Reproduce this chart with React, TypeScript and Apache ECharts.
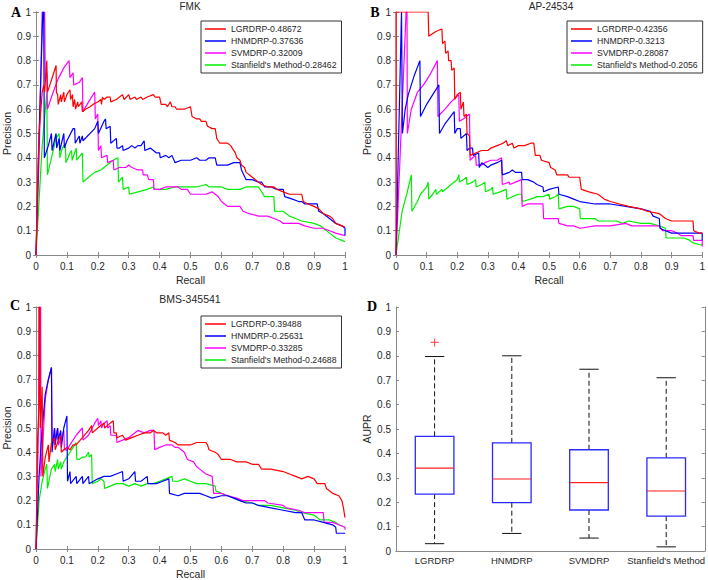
import React, { useEffect, useRef } from "react";
import * as echarts from "echarts";

const METHODS = ["LGRDRP", "HNMDRP", "SVMDRP", "Stanfield's Method"];
const COLORS = ["#ff0000", "#0000ff", "#ff00ff", "#00ee00"];
const TITLES = ["FMK", "AP-24534", "BMS-345541"];
const LETTERS = ["A", "B", "C", "D"];

const FMK_AUPR = ["0.48672", "0.37636", "0.32009", "0.28462"];
const AP_AUPR = ["0.42356", "0.3213", "0.28087", "0.2056"];
const BMS_AUPR = ["0.39488", "0.25631", "0.33285", "0.24688"];

// ---- Panel A (FMK) ----
const FMK_LGRDRP = [[0,0],[0.005,0.3],[0.01,0.5],[0.02,0.67],[0.025,0.7],[0.028,0.67],[0.035,0.8],[0.037,0.67],[0.045,0.7],[0.05,0.72],[0.065,0.78],[0.066,0.67],[0.07,0.66],[0.072,0.62],[0.08,0.66],[0.082,0.63],[0.09,0.67],[0.092,0.63],[0.1,0.66],[0.11,0.68],[0.112,0.64],[0.118,0.66],[0.12,0.61],[0.125,0.64],[0.128,0.6],[0.135,0.63],[0.137,0.61],[0.148,0.63],[0.15,0.59],[0.16,0.6],[0.175,0.61],[0.185,0.62],[0.2,0.63],[0.21,0.64],[0.212,0.62],[0.215,0.65],[0.22,0.64],[0.23,0.65],[0.24,0.65],[0.242,0.63],[0.26,0.64],[0.28,0.66],[0.285,0.64],[0.3,0.66],[0.305,0.64],[0.32,0.65],[0.325,0.64],[0.34,0.65],[0.345,0.64],[0.36,0.65],[0.38,0.66],[0.385,0.65],[0.4,0.65],[0.405,0.62],[0.42,0.62],[0.425,0.61],[0.435,0.63],[0.44,0.61],[0.45,0.61],[0.455,0.6],[0.48,0.6],[0.5,0.61],[0.505,0.57],[0.52,0.56],[0.53,0.56],[0.535,0.55],[0.55,0.55],[0.555,0.53],[0.57,0.52],[0.58,0.52],[0.585,0.48],[0.59,0.47],[0.595,0.46],[0.62,0.46],[0.63,0.45],[0.635,0.44],[0.645,0.42],[0.65,0.4],[0.66,0.39],[0.665,0.37],[0.675,0.36],[0.68,0.34],[0.69,0.33],[0.7,0.32],[0.71,0.31],[0.72,0.3],[0.73,0.29],[0.75,0.28],[0.77,0.28],[0.78,0.27],[0.8,0.26],[0.82,0.25],[0.86,0.25],[0.865,0.22],[0.88,0.21],[0.9,0.2],[0.915,0.19],[0.93,0.17],[0.95,0.16],[0.96,0.15],[0.97,0.13],[0.99,0.12],[1.0,0.115]];
const FMK_HNMDRP = [[0,0],[0.01,0.5],[0.022,1.0],[0.025,1.0],[0.027,0.4],[0.04,0.45],[0.05,0.5],[0.052,0.43],[0.065,0.5],[0.067,0.44],[0.075,0.48],[0.077,0.43],[0.09,0.5],[0.092,0.44],[0.1,0.47],[0.12,0.52],[0.125,0.52],[0.127,0.46],[0.14,0.49],[0.142,0.46],[0.15,0.49],[0.152,0.47],[0.19,0.52],[0.2,0.55],[0.202,0.5],[0.22,0.55],[0.225,0.56],[0.227,0.52],[0.24,0.53],[0.242,0.46],[0.26,0.48],[0.262,0.44],[0.27,0.44],[0.28,0.45],[0.282,0.43],[0.3,0.44],[0.31,0.45],[0.32,0.44],[0.33,0.45],[0.34,0.45],[0.35,0.47],[0.352,0.43],[0.37,0.44],[0.38,0.43],[0.39,0.42],[0.4,0.42],[0.402,0.4],[0.42,0.41],[0.43,0.4],[0.44,0.41],[0.45,0.38],[0.47,0.39],[0.5,0.39],[0.52,0.4],[0.53,0.39],[0.55,0.39],[0.56,0.4],[0.58,0.4],[0.585,0.37],[0.62,0.37],[0.64,0.38],[0.66,0.38],[0.665,0.35],[0.68,0.31],[0.7,0.31],[0.72,0.3],[0.73,0.3],[0.74,0.28],[0.76,0.28],[0.78,0.27],[0.8,0.27],[0.805,0.24],[0.83,0.23],[0.85,0.22],[0.86,0.22],[0.87,0.21],[0.91,0.21],[0.915,0.18],[0.93,0.17],[0.95,0.15],[0.97,0.13],[0.99,0.12],[1.0,0.11],[1.0,0.08]];
const FMK_SVMDRP = [[0,0],[0.01,0.4],[0.02,1.0],[0.028,1.0],[0.03,0.72],[0.035,0.75],[0.037,0.6],[0.05,0.65],[0.07,0.72],[0.09,0.77],[0.107,0.8],[0.11,0.73],[0.12,0.75],[0.122,0.7],[0.14,0.71],[0.15,0.73],[0.152,0.59],[0.17,0.63],[0.19,0.67],[0.192,0.56],[0.2,0.58],[0.202,0.43],[0.21,0.45],[0.212,0.4],[0.23,0.41],[0.232,0.38],[0.25,0.39],[0.252,0.35],[0.27,0.36],[0.29,0.36],[0.3,0.37],[0.31,0.36],[0.33,0.35],[0.345,0.35],[0.347,0.33],[0.36,0.33],[0.365,0.31],[0.38,0.31],[0.382,0.27],[0.4,0.27],[0.42,0.28],[0.46,0.28],[0.47,0.27],[0.49,0.27],[0.5,0.25],[0.53,0.25],[0.55,0.25],[0.57,0.26],[0.59,0.24],[0.6,0.22],[0.61,0.21],[0.62,0.2],[0.66,0.2],[0.67,0.18],[0.69,0.17],[0.72,0.16],[0.75,0.16],[0.77,0.15],[0.79,0.14],[0.8,0.13],[0.85,0.13],[0.87,0.12],[0.9,0.11],[0.93,0.11],[0.95,0.1],[0.97,0.09],[1.0,0.08]];
const FMK_STANFIELD = [[0,0],[0.02,0.45],[0.035,0.67],[0.037,0.33],[0.05,0.4],[0.065,0.48],[0.075,0.5],[0.077,0.4],[0.085,0.44],[0.095,0.46],[0.097,0.38],[0.11,0.42],[0.115,0.43],[0.117,0.39],[0.13,0.44],[0.132,0.39],[0.15,0.42],[0.152,0.3],[0.17,0.32],[0.19,0.34],[0.21,0.35],[0.23,0.37],[0.25,0.39],[0.265,0.4],[0.267,0.3],[0.28,0.32],[0.282,0.27],[0.3,0.28],[0.302,0.25],[0.33,0.26],[0.36,0.27],[0.38,0.28],[0.382,0.27],[0.42,0.27],[0.45,0.28],[0.47,0.28],[0.5,0.28],[0.52,0.28],[0.55,0.29],[0.56,0.28],[0.58,0.28],[0.6,0.28],[0.62,0.27],[0.66,0.27],[0.68,0.28],[0.72,0.28],[0.74,0.24],[0.77,0.24],[0.772,0.18],[0.8,0.18],[0.82,0.16],[0.84,0.15],[0.86,0.14],[0.9,0.13],[0.92,0.12],[0.93,0.11],[0.95,0.09],[0.97,0.07],[1.0,0.055]];

// ---- Panel B (AP-24534) ----
const AP_LGRDRP = [[0,0],[0,1.0],[0.105,1.0],[0.107,0.9],[0.13,0.92],[0.15,0.93],[0.152,0.87],[0.16,0.88],[0.162,0.83],[0.17,0.84],[0.172,0.8],[0.18,0.8],[0.182,0.76],[0.19,0.77],[0.192,0.64],[0.2,0.66],[0.21,0.67],[0.212,0.6],[0.22,0.63],[0.222,0.57],[0.23,0.58],[0.232,0.5],[0.24,0.49],[0.242,0.41],[0.26,0.42],[0.28,0.43],[0.3,0.43],[0.31,0.44],[0.33,0.45],[0.35,0.46],[0.36,0.47],[0.365,0.45],[0.38,0.46],[0.385,0.44],[0.4,0.45],[0.42,0.45],[0.44,0.46],[0.45,0.46],[0.455,0.41],[0.47,0.41],[0.475,0.39],[0.5,0.38],[0.505,0.36],[0.52,0.35],[0.525,0.33],[0.56,0.33],[0.565,0.32],[0.6,0.32],[0.605,0.27],[0.63,0.26],[0.66,0.25],[0.68,0.23],[0.7,0.22],[0.73,0.21],[0.76,0.2],[0.8,0.19],[0.82,0.18],[0.86,0.17],[0.88,0.15],[0.9,0.14],[0.95,0.14],[0.97,0.14],[0.972,0.1],[0.99,0.09],[1.0,0.09]];
const AP_HNMDRP = [[0,0],[0.018,1.0],[0.02,1.0],[0.021,0.5],[0.03,0.6],[0.04,0.66],[0.06,0.74],[0.078,0.8],[0.08,0.57],[0.1,0.62],[0.12,0.66],[0.14,0.7],[0.142,0.5],[0.16,0.54],[0.19,0.59],[0.192,0.5],[0.2,0.52],[0.21,0.52],[0.212,0.48],[0.23,0.5],[0.232,0.43],[0.24,0.44],[0.25,0.44],[0.252,0.41],[0.27,0.42],[0.272,0.36],[0.28,0.38],[0.29,0.37],[0.3,0.36],[0.31,0.37],[0.33,0.38],[0.345,0.39],[0.347,0.33],[0.37,0.34],[0.38,0.35],[0.39,0.34],[0.41,0.34],[0.412,0.31],[0.43,0.31],[0.45,0.3],[0.46,0.29],[0.48,0.28],[0.482,0.26],[0.5,0.27],[0.53,0.28],[0.532,0.25],[0.56,0.24],[0.58,0.23],[0.6,0.22],[0.65,0.21],[0.7,0.21],[0.75,0.2],[0.8,0.19],[0.83,0.18],[0.84,0.16],[0.86,0.15],[0.862,0.11],[0.88,0.1],[0.9,0.09],[0.99,0.09],[1.0,0.09],[1.0,0.06]];
const AP_SVMDRP = [[0,0],[0.033,1.0],[0.036,1.0],[0.037,0.5],[0.05,0.6],[0.07,0.67],[0.09,0.7],[0.11,0.74],[0.135,0.8],[0.137,0.57],[0.16,0.6],[0.18,0.63],[0.205,0.66],[0.207,0.55],[0.22,0.56],[0.24,0.58],[0.242,0.39],[0.25,0.4],[0.26,0.41],[0.262,0.37],[0.28,0.37],[0.29,0.38],[0.31,0.39],[0.33,0.39],[0.345,0.4],[0.347,0.29],[0.37,0.3],[0.372,0.29],[0.39,0.3],[0.41,0.31],[0.412,0.2],[0.43,0.21],[0.45,0.21],[0.47,0.21],[0.48,0.21],[0.482,0.15],[0.5,0.15],[0.53,0.15],[0.532,0.13],[0.56,0.12],[0.58,0.12],[0.6,0.11],[0.65,0.12],[0.7,0.12],[0.75,0.13],[0.77,0.12],[0.8,0.12],[0.86,0.12],[0.87,0.1],[0.9,0.1],[0.92,0.09],[0.93,0.08],[0.97,0.08],[0.972,0.06],[1.0,0.06],[1.0,0.035]];
const AP_STANFIELD = [[0,0],[0.02,0.18],[0.035,0.25],[0.05,0.33],[0.052,0.18],[0.07,0.22],[0.08,0.25],[0.1,0.28],[0.105,0.3],[0.107,0.23],[0.12,0.25],[0.13,0.27],[0.132,0.25],[0.15,0.27],[0.152,0.26],[0.18,0.29],[0.2,0.31],[0.205,0.33],[0.207,0.3],[0.22,0.31],[0.23,0.32],[0.232,0.29],[0.25,0.3],[0.26,0.31],[0.262,0.28],[0.28,0.29],[0.29,0.3],[0.292,0.26],[0.31,0.27],[0.315,0.28],[0.317,0.25],[0.34,0.26],[0.36,0.27],[0.362,0.23],[0.38,0.24],[0.4,0.25],[0.41,0.25],[0.412,0.22],[0.44,0.23],[0.46,0.24],[0.48,0.24],[0.5,0.25],[0.502,0.23],[0.52,0.24],[0.53,0.25],[0.532,0.19],[0.56,0.2],[0.58,0.2],[0.6,0.19],[0.602,0.15],[0.63,0.15],[0.65,0.15],[0.66,0.14],[0.7,0.14],[0.72,0.14],[0.74,0.13],[0.76,0.14],[0.8,0.13],[0.83,0.13],[0.86,0.12],[0.88,0.11],[0.882,0.07],[0.92,0.07],[0.94,0.07],[0.96,0.06],[0.97,0.05],[1.0,0.04]];

// ---- Panel C (BMS-345541) ----
const BMS_LGRDRP = [[0,0],[0.005,0.45],[0.01,0.6],[0.01,1.0],[0.013,1.0],[0.014,0.5],[0.02,0.67],[0.022,0.3],[0.03,0.38],[0.04,0.43],[0.042,0.36],[0.05,0.44],[0.06,0.46],[0.062,0.41],[0.07,0.44],[0.08,0.47],[0.082,0.4],[0.09,0.41],[0.1,0.42],[0.11,0.41],[0.12,0.43],[0.13,0.43],[0.15,0.46],[0.17,0.49],[0.18,0.51],[0.182,0.48],[0.2,0.5],[0.21,0.51],[0.22,0.52],[0.222,0.5],[0.24,0.52],[0.25,0.53],[0.252,0.48],[0.26,0.48],[0.262,0.46],[0.28,0.47],[0.29,0.45],[0.31,0.46],[0.33,0.47],[0.35,0.48],[0.37,0.48],[0.38,0.49],[0.39,0.48],[0.41,0.48],[0.42,0.47],[0.43,0.48],[0.432,0.45],[0.45,0.44],[0.46,0.43],[0.48,0.43],[0.5,0.43],[0.52,0.44],[0.55,0.44],[0.555,0.43],[0.56,0.41],[0.58,0.4],[0.59,0.39],[0.6,0.37],[0.63,0.37],[0.65,0.36],[0.68,0.36],[0.7,0.35],[0.72,0.35],[0.73,0.33],[0.76,0.33],[0.8,0.32],[0.82,0.31],[0.84,0.3],[0.86,0.29],[0.88,0.3],[0.9,0.29],[0.91,0.27],[0.935,0.27],[0.94,0.25],[0.96,0.23],[0.98,0.22],[0.99,0.2],[0.995,0.17],[1.0,0.13]];
const BMS_HNMDRP = [[0,0],[0.01,0.3],[0.02,0.5],[0.03,0.64],[0.04,0.7],[0.05,0.75],[0.052,0.4],[0.06,0.5],[0.062,0.43],[0.07,0.5],[0.072,0.45],[0.08,0.49],[0.082,0.42],[0.09,0.5],[0.1,0.55],[0.102,0.28],[0.11,0.32],[0.112,0.27],[0.13,0.3],[0.132,0.27],[0.15,0.3],[0.152,0.27],[0.17,0.3],[0.172,0.27],[0.2,0.29],[0.22,0.3],[0.24,0.3],[0.26,0.31],[0.28,0.32],[0.282,0.28],[0.3,0.29],[0.32,0.32],[0.322,0.28],[0.34,0.28],[0.36,0.3],[0.362,0.27],[0.39,0.27],[0.41,0.28],[0.43,0.29],[0.432,0.23],[0.46,0.22],[0.48,0.23],[0.5,0.23],[0.53,0.23],[0.55,0.22],[0.57,0.21],[0.6,0.22],[0.62,0.22],[0.64,0.21],[0.66,0.2],[0.68,0.19],[0.7,0.19],[0.72,0.18],[0.76,0.17],[0.8,0.16],[0.84,0.15],[0.86,0.15],[0.87,0.12],[0.9,0.12],[0.93,0.11],[0.96,0.1],[0.97,0.09],[0.972,0.065],[1.0,0.065]];
const BMS_SVMDRP = [[0,0],[0.008,0.5],[0.01,1.0],[0.015,1.0],[0.016,0.3],[0.03,0.62],[0.04,0.7],[0.05,0.75],[0.052,0.42],[0.06,0.5],[0.062,0.45],[0.07,0.5],[0.072,0.43],[0.085,0.47],[0.09,0.49],[0.092,0.41],[0.1,0.41],[0.11,0.43],[0.13,0.47],[0.15,0.5],[0.152,0.45],[0.17,0.47],[0.19,0.52],[0.2,0.54],[0.202,0.51],[0.21,0.53],[0.212,0.5],[0.22,0.52],[0.23,0.53],[0.232,0.5],[0.24,0.51],[0.242,0.47],[0.26,0.47],[0.262,0.44],[0.28,0.45],[0.3,0.46],[0.31,0.47],[0.33,0.49],[0.35,0.48],[0.37,0.49],[0.382,0.49],[0.384,0.41],[0.4,0.42],[0.42,0.43],[0.44,0.43],[0.45,0.42],[0.46,0.42],[0.47,0.41],[0.48,0.4],[0.49,0.37],[0.51,0.36],[0.52,0.34],[0.53,0.33],[0.55,0.31],[0.57,0.3],[0.575,0.23],[0.6,0.23],[0.62,0.22],[0.65,0.21],[0.67,0.2],[0.7,0.2],[0.74,0.2],[0.75,0.19],[0.8,0.18],[0.81,0.17],[0.85,0.16],[0.87,0.15],[0.92,0.15],[0.93,0.15],[0.932,0.11],[0.96,0.11],[0.98,0.1],[1.0,0.09],[1.0,0.08]];
const BMS_STANFIELD = [[0,0],[0.01,0.2],[0.02,0.28],[0.03,0.33],[0.035,0.35],[0.037,0.25],[0.045,0.3],[0.05,0.33],[0.06,0.35],[0.062,0.32],[0.07,0.37],[0.072,0.33],[0.08,0.36],[0.082,0.33],[0.09,0.36],[0.1,0.38],[0.11,0.4],[0.12,0.42],[0.13,0.44],[0.132,0.37],[0.14,0.37],[0.15,0.38],[0.16,0.38],[0.17,0.4],[0.172,0.38],[0.18,0.39],[0.182,0.27],[0.2,0.28],[0.21,0.29],[0.22,0.28],[0.222,0.25],[0.24,0.26],[0.26,0.27],[0.28,0.27],[0.3,0.26],[0.32,0.27],[0.34,0.26],[0.36,0.27],[0.38,0.27],[0.4,0.28],[0.42,0.29],[0.44,0.3],[0.442,0.28],[0.46,0.28],[0.48,0.29],[0.5,0.28],[0.52,0.27],[0.55,0.27],[0.58,0.26],[0.582,0.24],[0.6,0.23],[0.62,0.22],[0.64,0.21],[0.66,0.2],[0.7,0.19],[0.72,0.18],[0.76,0.18],[0.8,0.17],[0.84,0.16],[0.86,0.15],[0.9,0.14],[0.92,0.12],[0.95,0.12],[0.97,0.11],[0.98,0.1],[1.0,0.09]];

// ---- Panel D (AUPR box plot) ----
const BOX_MIN = [0.03, 0.072, 0.053, 0.017];
const BOX_Q1 = [0.233, 0.198, 0.168, 0.143];
const BOX_MEDIAN = [0.34, 0.295, 0.28, 0.246];
const BOX_Q3 = [0.47, 0.443, 0.415, 0.382];
const BOX_MAX = [0.797, 0.8, 0.745, 0.71];
const OUTLIERS = [[0, 0.855]];

const AXIS_MIN = 0;
const AXIS_MAX = 1;
const AXIS_STEP = 0.1;

const FONT = "'Liberation Sans', Arial, sans-serif";
const AXIS_COLOR = "#8a8a8a";
const TEXT_COLOR = "#262626";

const GRIDS = [
  { left: 35, top: 12, width: 310, height: 243 },
  { left: 396, top: 12, width: 310, height: 243 },
  { left: 35, top: 307, width: 310, height: 243 },
  { left: 396, top: 307, width: 310, height: 244 },
];

const LEGEND_POS = [
  { left: 201, top: 21 },
  { left: 567, top: 21 },
  { left: 201, top: 316 },
];

export default function App() {
  const ref = useRef<HTMLDivElement>(null);

  useEffect(() => {
    if (!ref.current) return;
    const chart = echarts.init(ref.current, undefined, { renderer: "svg" });

    const curves = [
      [FMK_LGRDRP, FMK_HNMDRP, FMK_SVMDRP, FMK_STANFIELD],
      [AP_LGRDRP, AP_HNMDRP, AP_SVMDRP, AP_STANFIELD],
      [BMS_LGRDRP, BMS_HNMDRP, BMS_SVMDRP, BMS_STANFIELD],
    ];
    const aupr = [FMK_AUPR, AP_AUPR, BMS_AUPR];

    const axisLine = { show: true, lineStyle: { color: AXIS_COLOR, width: 1 } };
    const axisTick = { show: true, inside: true, length: 3, lineStyle: { color: AXIS_COLOR } };
    const labelStyle = { color: TEXT_COLOR, fontSize: 10, fontFamily: FONT };
    const nameStyle = { color: TEXT_COLOR, fontSize: 10.5, fontFamily: FONT };

    const xAxes: any[] = [];
    const yAxes: any[] = [];
    const series: any[] = [];
    const legends: any[] = [];

    for (let p = 0; p < 3; p++) {
      const valueAxis = {
        type: "value",
        gridIndex: p,
        min: AXIS_MIN,
        max: AXIS_MAX,
        interval: AXIS_STEP,
        splitLine: { show: false },
        axisLine,
        axisTick,
      };
      xAxes.push({
        ...valueAxis,
        position: "bottom",
        name: "Recall",
        nameLocation: "middle",
        nameGap: 19,
        nameTextStyle: nameStyle,
        axisLabel: { ...labelStyle, margin: 6 },
      });
      xAxes.push({ ...valueAxis, position: "top", axisLabel: { show: false } });
      yAxes.push({
        ...valueAxis,
        position: "left",
        name: "Precision",
        nameLocation: "middle",
        nameGap: 24,
        nameTextStyle: nameStyle,
        axisLabel: { ...labelStyle, margin: 5 },
      });
      yAxes.push({ ...valueAxis, position: "right", axisLabel: { show: false } });

      const names: string[] = [];
      for (let s = 0; s < 4; s++) {
        const name = `${METHODS[s]}-${aupr[p][s]}`;
        names.push(name);
        series.push({
          type: "line",
          name,
          xAxisIndex: 2 * p,
          yAxisIndex: 2 * p,
          data: curves[p][s],
          showSymbol: false,
          symbol: "none",
          z: 10 - s,
          lineStyle: { color: COLORS[s], width: 1.2 },
          itemStyle: { color: COLORS[s] },
        });
      }
      legends.push({
        data: names,
        ...LEGEND_POS[p],
        orient: "vertical",
        icon: "rect",
        itemWidth: 21,
        itemHeight: 1.5,
        itemGap: 2,
        itemTextGap: 4,
        padding: [3, 5, 3, 4],
        borderColor: "#333",
        borderWidth: 1,
        backgroundColor: "#fff",
        selectedMode: false,
        textStyle: { color: TEXT_COLOR, fontSize: 8.7, fontFamily: FONT, lineHeight: 10 },
      });
    }

    // Panel D axes
    xAxes.push({
      type: "category",
      gridIndex: 3,
      data: METHODS,
      position: "bottom",
      axisLine,
      axisTick: { show: false },
      axisLabel: { ...labelStyle, fontSize: 9.5, margin: 4, interval: 0 },
    });
    xAxes.push({
      type: "category",
      gridIndex: 3,
      data: METHODS,
      position: "top",
      axisLine,
      axisTick: { show: false },
      axisLabel: { show: false },
    });
    const boxY = {
      type: "value",
      gridIndex: 3,
      min: AXIS_MIN,
      max: AXIS_MAX,
      interval: AXIS_STEP,
      splitLine: { show: false },
      axisLine,
      axisTick,
    };
    yAxes.push({
      ...boxY,
      position: "left",
      name: "AUPR",
      nameLocation: "middle",
      nameGap: 24,
      nameTextStyle: nameStyle,
      axisLabel: { ...labelStyle, margin: 5 },
    });
    yAxes.push({ ...boxY, position: "right", axisLabel: { show: false } });

    const boxData = METHODS.map((_, i) => [i, BOX_MIN[i], BOX_Q1[i], BOX_MEDIAN[i], BOX_Q3[i], BOX_MAX[i]]);

    series.push({
      type: "custom",
      xAxisIndex: 6,
      yAxisIndex: 6,
      data: boxData,
      encode: { x: 0, y: [1, 2, 3, 4, 5] },
      renderItem: (params: any, api: any) => {
        const idx = api.value(0);
        const pMin = api.coord([idx, api.value(1)]);
        const pQ1 = api.coord([idx, api.value(2)]);
        const pMed = api.coord([idx, api.value(3)]);
        const pQ3 = api.coord([idx, api.value(4)]);
        const pMax = api.coord([idx, api.value(5)]);
        const band = api.size([1, 0])[0];
        const bw = band * 0.5;
        const cw = band * 0.25;
        const cx = pMed[0];
        const dashed = { stroke: "#111", lineWidth: 1, lineDash: [5, 3], fill: "none" };
        const solid = { stroke: "#111", lineWidth: 1, fill: "none" };
        return {
          type: "group",
          children: [
            { type: "line", shape: { x1: cx, y1: pQ3[1], x2: cx, y2: pMax[1] }, style: dashed },
            { type: "line", shape: { x1: cx, y1: pQ1[1], x2: cx, y2: pMin[1] }, style: dashed },
            { type: "line", shape: { x1: cx - cw / 2, y1: pMax[1], x2: cx + cw / 2, y2: pMax[1] }, style: solid },
            { type: "line", shape: { x1: cx - cw / 2, y1: pMin[1], x2: cx + cw / 2, y2: pMin[1] }, style: solid },
            {
              type: "rect",
              shape: { x: cx - bw / 2, y: pQ3[1], width: bw, height: pQ1[1] - pQ3[1] },
              style: { stroke: "#2a2aff", lineWidth: 1.3, fill: "none" },
            },
            {
              type: "line",
              shape: { x1: cx - bw / 2, y1: pMed[1], x2: cx + bw / 2, y2: pMed[1] },
              style: { stroke: "#ff2020", lineWidth: 1.2 },
            },
          ],
        };
      },
    });
    series.push({
      type: "scatter",
      xAxisIndex: 6,
      yAxisIndex: 6,
      data: OUTLIERS,
      symbol: "path://M3,0 H4 V3 H7 V4 H4 V7 H3 V4 H0 V3 H3 Z",
      symbolSize: 8,
      itemStyle: { color: "#ff3030" },
    });

    const textEl = (text: string, x: number, y: number, extra: any = {}) => ({
      type: "text",
      x,
      y,
      style: {
        text,
        fill: TEXT_COLOR,
        fontSize: 10.5,
        fontFamily: FONT,
        align: "center",
        verticalAlign: "middle",
        ...extra,
      },
    });
    const letterStyle = { fontSize: 14, fontWeight: "bold", fontFamily: "'Liberation Serif', 'Times New Roman', serif", fill: "#000" };

    const graphic = [
      textEl(TITLES[0], 190, 6.5, { fontSize: 10 }),
      textEl(TITLES[1], 551, 6.5, { fontSize: 10 }),
      textEl(TITLES[2], 190, 299),
      textEl(LETTERS[0], 16, 12, letterStyle),
      textEl(LETTERS[1], 375, 12, letterStyle),
      textEl(LETTERS[2], 15, 305, letterStyle),
      textEl(LETTERS[3], 372, 306, letterStyle),
    ];

    chart.setOption({
      animation: false,
      backgroundColor: "#fff",
      grid: GRIDS,
      xAxis: xAxes,
      yAxis: yAxes,
      legend: legends,
      series,
      graphic,
    });

    return () => chart.dispose();
  }, []);

  return (
    <div
      ref={ref}
      style={{ position: "absolute", left: 0, top: 0, width: 708, height: 580 }}
    />
  );
}
